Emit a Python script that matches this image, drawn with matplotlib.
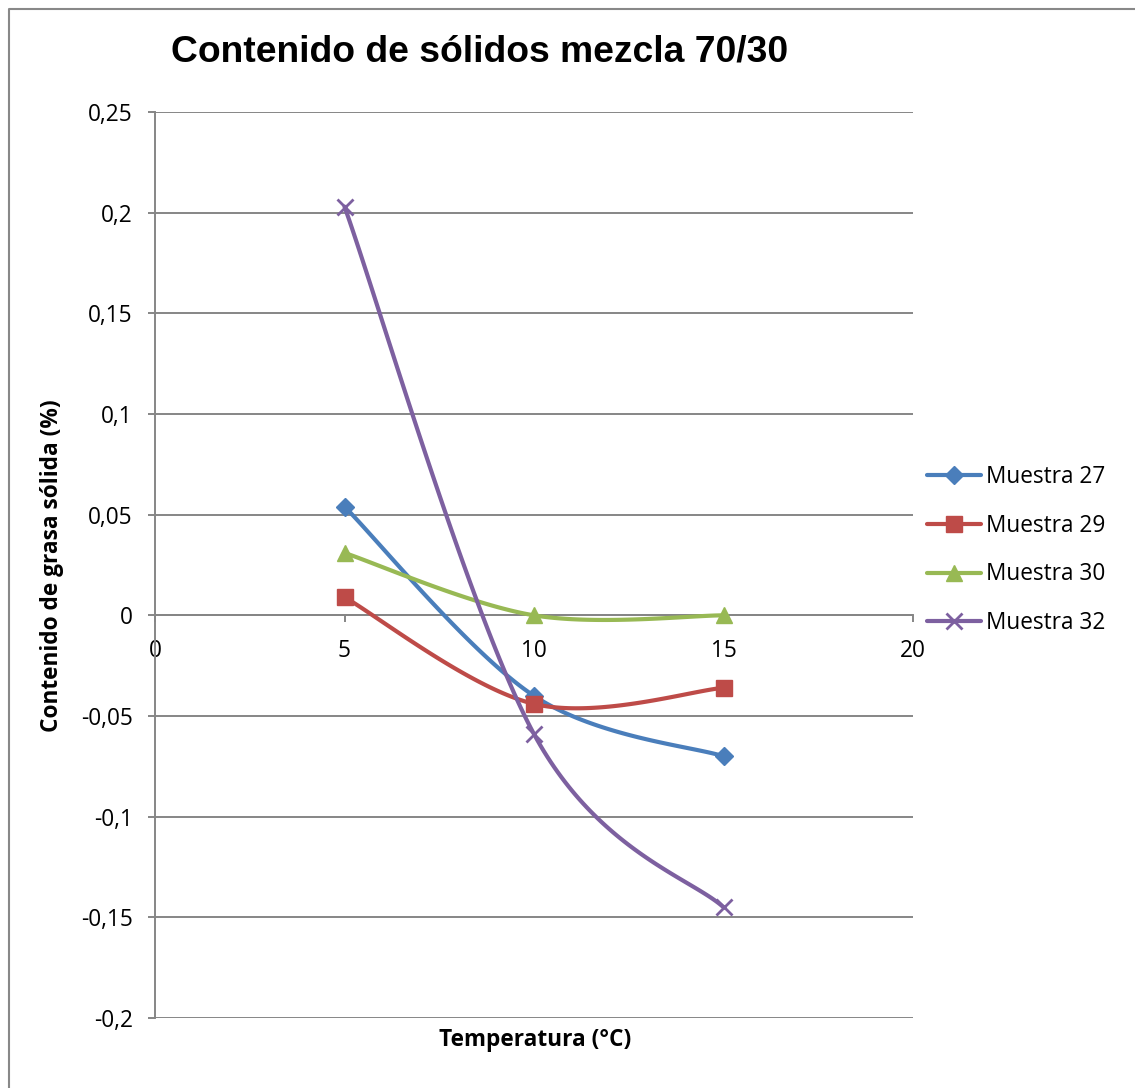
import numpy as np
import matplotlib
matplotlib.use("Agg")
import matplotlib.pyplot as plt
from matplotlib.lines import Line2D

# temperatures (°C) and solid fat content for each sample
temps = [5, 10, 15]
muestra_27 = [0.054, -0.040, -0.070]
muestra_29 = [0.009, -0.044, -0.036]
muestra_30 = [0.031, 0.000, 0.000]
muestra_32 = [0.203, -0.059, -0.145]

series_names = ["Muestra 27", "Muestra 29", "Muestra 30", "Muestra 32"]
x_ticks = [0, 5, 10, 15, 20]
x_ticklabels = ["0", "5", "10", "15", "20"]
y_ticks = [-0.2, -0.15, -0.1, -0.05, 0, 0.05, 0.1, 0.15, 0.2, 0.25]
y_ticklabels = ["-0,2", "-0,15", "-0,1", "-0,05", "0", "0,05", "0,1", "0,15", "0,2", "0,25"]

colors = ["#4A7EBB", "#BE4B48", "#98B954", "#7D60A0"]
markers = ["D", "s", "^", "x"]
msizes = [9.5, 12, 11, 12]

GRID = "#868686"
FONT = "Open Sans"
FS = 16.3


def smooth(xs, ys, n=60):
    """Bezier smoothing through the points, the way spreadsheet charts do it."""
    px = np.asarray(xs, float)
    py = np.asarray(ys, float)
    ex = np.concatenate([[px[0]], px, [px[-1]]])
    ey = np.concatenate([[py[0]], py, [py[-1]]])
    out_x, out_y = [], []
    t = np.linspace(0, 1, n)
    for i in range(len(px) - 1):
        p0 = np.array([ex[i + 1], ey[i + 1]])
        p3 = np.array([ex[i + 2], ey[i + 2]])
        c1 = p0 + (np.array([ex[i + 2], ey[i + 2]]) - np.array([ex[i], ey[i]])) / 6
        c2 = p3 - (np.array([ex[i + 3], ey[i + 3]]) - np.array([ex[i + 1], ey[i + 1]])) / 6
        b = ((1 - t) ** 3)[:, None] * p0 + (3 * (1 - t) ** 2 * t)[:, None] * c1 \
            + (3 * (1 - t) * t ** 2)[:, None] * c2 + (t ** 3)[:, None] * p3
        out_x.extend(b[:, 0])
        out_y.extend(b[:, 1])
    return out_x, out_y


fig = plt.figure(figsize=(11.35, 10.88), dpi=100)
ax = fig.add_axes([155 / 1135, 1 - 1018 / 1088, (913 - 155) / 1135, (1018 - 112) / 1088])

ax.set_xlim(0, 20)
ax.set_ylim(-0.2, 0.25)
for y in y_ticks:
    ax.axhline(y, color=GRID, lw=1.4, zorder=1)

ax.spines["top"].set_visible(False)
ax.spines["right"].set_visible(False)
ax.spines["bottom"].set_position(("data", 0))
ax.spines["bottom"].set_color(GRID)
ax.spines["bottom"].set_linewidth(1.4)
ax.spines["left"].set_color(GRID)
ax.spines["left"].set_linewidth(1.4)

ax.set_xticks(x_ticks)
ax.set_xticklabels(x_ticklabels, fontsize=FS, family=FONT)
ax.set_yticks(y_ticks)
ax.set_yticklabels(y_ticklabels, fontsize=FS, family=FONT)
ax.tick_params(axis="x", direction="out", length=5, width=1.4, color=GRID, pad=12)
ax.tick_params(axis="y", direction="out", length=5, width=1.4, color=GRID, pad=11)

all_series = [muestra_27, muestra_29, muestra_30, muestra_32]
handles = []
for vals, name, c, m, ms in zip(all_series, series_names, colors, markers, msizes):
    sx, sy = smooth(temps, vals)
    ax.plot(sx, sy, color=c, lw=3, solid_capstyle="round", zorder=3)
    mew = 2 if m == "x" else 1
    ax.plot(temps, vals, ls="none", marker=m, ms=ms, color=c, mec=c, mew=mew, zorder=4)
    handles.append(Line2D([], [], color=c, lw=3, marker=m, ms=ms, mec=c, mew=mew,
                          solid_capstyle="round"))

fig.legend(handles, series_names, loc="center left", bbox_to_anchor=(927 / 1135, 1 - 550 / 1088),
           frameon=False, prop={"family": FONT, "size": FS}, handlelength=2.4,
           handletextpad=0.2, labelspacing=1.1, borderpad=0, borderaxespad=0)

fig.text(480 / 1135, 1 - 52 / 1088, "Contenido de sólidos mezcla 70/30", ha="center",
         va="center", fontsize=26.8, fontweight="bold", family="Liberation Sans")
fig.text(535 / 1135, 1 - 1040 / 1088, "Temperatura (°C)", ha="center", va="center",
         fontsize=FS, fontweight="bold", family=FONT)
fig.text(52 / 1135, 1 - 566 / 1088, "Contenido de grasa sólida (%)", ha="center",
         va="center", rotation=90, fontsize=FS, fontweight="bold", family=FONT)

# chart area border (right and bottom edges fall outside the image)
fig.add_artist(Line2D([8.5 / 1135, 8.5 / 1135, 1.0], [0.0, 1 - 8.5 / 1088, 1 - 8.5 / 1088],
                      color="#888888", lw=1.5, transform=fig.transFigure))

fig.savefig("out.png", dpi=100)
